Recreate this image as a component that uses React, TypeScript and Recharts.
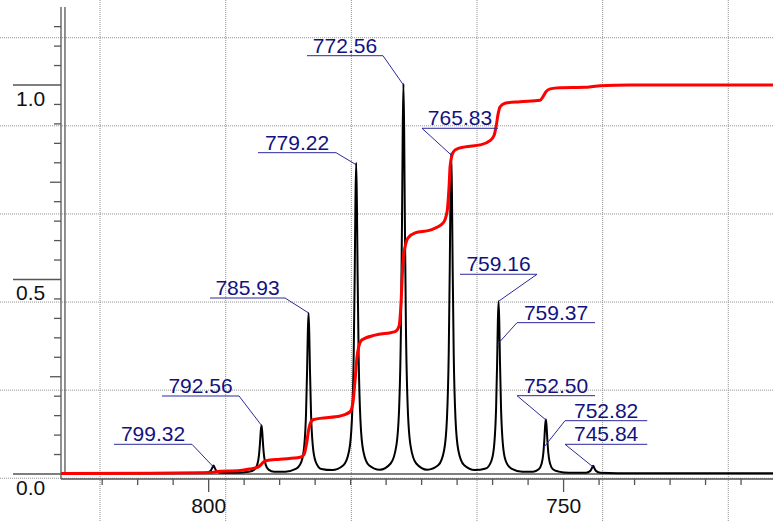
/**
 * @file NMR-style spectrum (black) with its running integral (red),
 * peak-picking labels with leader lines, on a reversed shift axis.
 */

import { LineChart, Line, XAxis, YAxis, ReferenceLine, ReferenceDot } from "recharts";

const FONT = '"Liberation Sans", Arial, sans-serif';
const LABEL_BLUE = "#12127f";
const LEADER_BLUE = "#2a2a9c";
const AXIS_GREY = "#555";

/** Spectrum trace, listed from the left of the plot (high shift) to the right. */
const spectrumShift = [
  820.8, 812, 804, 800.32, 799.72, 799.52, 799.32, 799.12, 798.92, 798.32,
  796.0, 794.36, 793.56, 793.16, 792.91, 792.76, 792.66, 792.56, 792.46, 792.36, 792.21, 791.96, 791.56, 790.76,
  789.2, 787.73, 786.93, 786.53, 786.28, 786.13, 786.03, 785.93, 785.83, 785.73, 785.58, 785.33, 784.93, 784.13,
  782.6, 781.02, 780.22, 779.82, 779.57, 779.42, 779.32, 779.22, 779.12, 779.02, 778.87, 778.62, 778.22, 777.42,
  775.9, 774.36, 773.56, 773.16, 772.91, 772.76, 772.66, 772.56, 772.46, 772.36, 772.21, 771.96, 771.56, 770.76,
  769.2, 767.63, 766.83, 766.43, 766.18, 766.03, 765.93, 765.83, 765.73, 765.63, 765.48, 765.23, 764.83, 764.03,
  762.5, 760.96, 760.16, 759.76, 759.51, 759.36, 759.26, 759.16, 759.06, 758.96, 758.81, 758.56, 758.16, 757.36,
  755.8, 754.3, 753.5, 753.1, 752.85, 752.7, 752.6, 752.5, 752.4, 752.3, 752.15, 751.9, 751.5, 750.7,
  749.2, 746.84, 746.24, 746.04, 745.84, 745.64, 745.44, 744.84, 740, 730, 720.5,
];
const spectrumIntensity = [
  0.002, 0.002, 0.0025, 0.0034, 0.008, 0.015, 0.022, 0.015, 0.008, 0.0034,
  0.003, 0.0057, 0.0113, 0.0235, 0.0485, 0.082, 0.11, 0.125, 0.11, 0.082, 0.0485, 0.0235, 0.0113, 0.0057,
  0.006, 0.013, 0.032, 0.073, 0.157, 0.269, 0.364, 0.414, 0.364, 0.269, 0.157, 0.073, 0.032, 0.013,
  0.01, 0.0225, 0.059, 0.139, 0.302, 0.519, 0.704, 0.8, 0.704, 0.519, 0.302, 0.139, 0.059, 0.0225,
  0.011, 0.027, 0.073, 0.173, 0.378, 0.651, 0.884, 1.003, 0.884, 0.651, 0.378, 0.173, 0.073, 0.027,
  0.011, 0.023, 0.061, 0.143, 0.311, 0.535, 0.726, 0.825, 0.726, 0.535, 0.311, 0.143, 0.061, 0.023,
  0.01, 0.014, 0.034, 0.078, 0.168, 0.288, 0.391, 0.444, 0.391, 0.288, 0.168, 0.078, 0.034, 0.014,
  0.006, 0.006, 0.012, 0.026, 0.054, 0.092, 0.124, 0.141, 0.124, 0.092, 0.054, 0.026, 0.012, 0.006,
  0.003, 0.0033, 0.008, 0.014, 0.021, 0.014, 0.008, 0.0033, 0.002, 0.002, 0.002,
];

/** Running integral, normalised to 1.0. */
const integralShift = [
  820.8, 808.25, 801.22, 799.6, 799.0, 795.58, 794.17, 793.33, 792.91, 792.62, 792.34, 791.92,
  789.95, 787.13, 786.57, 786.19, 785.9, 785.62, 785.2, 784.31, 781.49, 780.08, 779.66, 779.38,
  779.1, 778.82, 778.39, 776.56, 773.74, 773.18, 772.9, 772.75, 772.61, 772.33, 771.91, 770.92,
  768.81, 766.98, 766.41, 766.13, 765.99, 765.71, 765.29, 763.88, 761.77, 760.36, 759.8, 759.51,
  759.23, 758.95, 758.25, 756.13, 753.31, 752.89, 752.47, 751.9, 750.5, 746.97, 745.57, 744.87,
  740.64, 720.5,
];
const integralValue = [
  0.001, 0.002, 0.003, 0.0035, 0.006, 0.009, 0.013, 0.016, 0.019, 0.024, 0.03, 0.034,
  0.038, 0.043, 0.05, 0.08, 0.115, 0.133, 0.14, 0.143, 0.149, 0.16, 0.185, 0.24,
  0.3, 0.33, 0.345, 0.357, 0.366, 0.38, 0.44, 0.5, 0.55, 0.584, 0.607, 0.62,
  0.627, 0.645, 0.675, 0.74, 0.79, 0.82, 0.833, 0.841, 0.846, 0.857, 0.87, 0.893,
  0.925, 0.944, 0.953, 0.957, 0.961, 0.97, 0.983, 0.99, 0.993, 0.994, 0.997, 0.998,
  1.0, 1.0,
];

/** Peak labels: text, the point the leader touches, and the underline. */
const peakLabels = ["799.32", "792.56", "785.93", "779.22", "772.56", "765.83", "759.16", "759.37", "752.50", "752.82", "745.84"];
const tipShift = [799.32, 792.56, 785.93, 779.22, 772.56, 765.83, 759.16, 759.38, 752.5, 752.76, 745.84];
const tipLevel = [0.018, 0.125, 0.414, 0.795, 1.0, 0.82, 0.444, 0.332, 0.139, 0.069, 0.018];
const underlineLevel = [0.0763, 0.2005, 0.4524, 0.826, 1.0753, 0.8887, 0.5134, 0.389, 0.2013, 0.137, 0.0763];
const underlineLeft = [813.33, 806.57, 799.81, 793.05, 786.15, 769.95, 764.59, 756.56, 756.56, 749.8, 749.8];
const underlineRight = [802.35, 795.72, 789.24, 782.06, 775.44, 759.24, 753.74, 745.57, 745.57, 738.21, 738.21];
const leaderFrom = ["right", "right", "right", "right", "right", "left", "right", "left", "left", "left", "left"];

/** Axis ticks. */
const xTicks = [815, 810, 805, 800, 795, 790, 785, 780, 775, 770, 765, 760, 755, 750, 745, 740, 735, 730, 725];
const xLabelled = [800, 750];
const yTicks = [
  0, 0.05, 0.1, 0.15, 0.2, 0.25, 0.3, 0.35, 0.4, 0.45, 0.5, 0.55,
  0.6, 0.65, 0.7, 0.75, 0.8, 0.85, 0.9, 0.95, 1.0, 1.05, 1.1, 1.15,
];
const yLabelled = [0, 0.5, 1.0];
const yMedium = [0.25, 0.75];

/** Background dotted grid (spans the whole picture). */
const gridShift = [815.3, 797.6, 779.9, 762.2, 744.5, 726.8];
const gridLevel = [1.1215, 0.895, 0.6685, 0.442, 0.2155, -0.011];

const X_DOMAIN: [number, number] = [720.5, 820.8];
const Y_DOMAIN: [number, number] = [-0.0129, 1.2005];
const INNER_FRAME_X = 820.24;

const spectrum = spectrumShift.map((x, i) => ({ x, y: spectrumIntensity[i] }));
const integral = integralShift.map((x, i) => ({ x, y: integralValue[i] }));

const near = (list: number[], v: number) => list.some((t) => Math.abs(t - v) < 1e-6);

function XTick(props: any) {
  const { x, y, payload } = props;
  const major = near(xLabelled, payload.value);
  return (
    <g>
      <line x1={x} x2={x} y1={y} y2={y + (major ? 13 : 6)} stroke={AXIS_GREY} strokeWidth={1.3} />
      {major && (
        <text x={x} y={y + 34} textAnchor="middle" fontSize={21} fontFamily={FONT} fill="#111">
          {payload.value}
        </text>
      )}
    </g>
  );
}

function YTick(props: any) {
  const { x, y, payload } = props;
  const v = payload.value;
  const major = near(yLabelled, v);
  const len = major ? 48 : near(yMedium, v) ? 11 : 7;
  return (
    <g>
      <line x1={x - len} x2={x} y1={y} y2={y} stroke={AXIS_GREY} strokeWidth={1.3} />
      {major && (
        <text x={x - 45} y={y + 21} textAnchor="start" fontSize={21} fontFamily={FONT} fill="#111">
          {v.toFixed(1)}
        </text>
      )}
    </g>
  );
}

export default function App() {
  return (
    <div style={{ position: "absolute", left: 0, top: 0, width: 773, height: 521, background: "#fff" }}>
      <LineChart width={773} height={521} margin={{ top: 7, right: 0, bottom: 0, left: 0 }}>
        <XAxis
          type="number"
          dataKey="x"
          domain={X_DOMAIN}
          reversed
          allowDataOverflow
          ticks={xTicks}
          interval={0}
          tickSize={0}
          tickMargin={0}
          tick={(p: any) => <XTick {...p} />}
          axisLine={{ stroke: AXIS_GREY, strokeWidth: 1.3 }}
          height={42}
        />
        <YAxis
          type="number"
          domain={Y_DOMAIN}
          allowDataOverflow
          ticks={yTicks}
          interval={0}
          tickSize={0}
          tickMargin={0}
          tick={(p: any) => <YTick {...p} />}
          axisLine={{ stroke: AXIS_GREY, strokeWidth: 1.3 }}
          width={61}
        />

        {gridLevel.map((g) => (
          <ReferenceLine
            key={`gy${g}`}
            segment={[{ x: 829.4, y: g }, { x: X_DOMAIN[0], y: g }]}
            ifOverflow="visible"
            stroke="#8f8f8f"
            strokeDasharray="1 1"
          />
        ))}
        {gridShift.map((g) => (
          <ReferenceLine
            key={`gx${g}`}
            segment={[{ x: g, y: 1.2185 }, { x: g, y: -0.1208 }]}
            ifOverflow="visible"
            stroke="#8f8f8f"
            strokeDasharray="1 1"
          />
        ))}

        {/* inner frame of the double axis lines */}
        <ReferenceLine
          segment={[{ x: INNER_FRAME_X, y: 0 }, { x: X_DOMAIN[0], y: 0 }]}
          ifOverflow="visible"
          stroke={AXIS_GREY}
          strokeWidth={1.3}
        />
        <ReferenceLine
          segment={[{ x: INNER_FRAME_X, y: 0 }, { x: INNER_FRAME_X, y: Y_DOMAIN[1] }]}
          ifOverflow="visible"
          stroke={AXIS_GREY}
          strokeWidth={1.3}
        />

        <Line
          data={spectrum}
          dataKey="y"
          type="monotone"
          stroke="#000"
          strokeWidth={2}
          dot={false}
          isAnimationActive={false}
        />
        <Line
          data={integral}
          dataKey="y"
          type="monotone"
          stroke="#ff0000"
          strokeWidth={3}
          dot={false}
          isAnimationActive={false}
        />

        {peakLabels.map((t, i) => (
          <ReferenceLine
            key={`u${t}${i}`}
            segment={[{ x: underlineLeft[i], y: underlineLevel[i] }, { x: underlineRight[i], y: underlineLevel[i] }]}
            ifOverflow="visible"
            stroke={LEADER_BLUE}
            strokeWidth={1}
          />
        ))}
        {peakLabels.map((t, i) => (
          <ReferenceLine
            key={`l${t}${i}`}
            segment={[
              { x: leaderFrom[i] === "left" ? underlineLeft[i] : underlineRight[i], y: underlineLevel[i] },
              { x: tipShift[i], y: tipLevel[i] },
            ]}
            ifOverflow="visible"
            stroke={LEADER_BLUE}
            strokeWidth={1}
          />
        ))}
        {peakLabels.map((t, i) => (
          <ReferenceDot
            key={`t${t}${i}`}
            x={(underlineLeft[i] + underlineRight[i]) / 2}
            y={underlineLevel[i]}
            ifOverflow="visible"
            shape={(p: any) => (
              <text x={p.cx} y={p.cy - 3} textAnchor="middle" fontSize={21} fontFamily={FONT} fill={LABEL_BLUE}>
                {t}
              </text>
            )}
          />
        ))}
      </LineChart>
    </div>
  );
}
